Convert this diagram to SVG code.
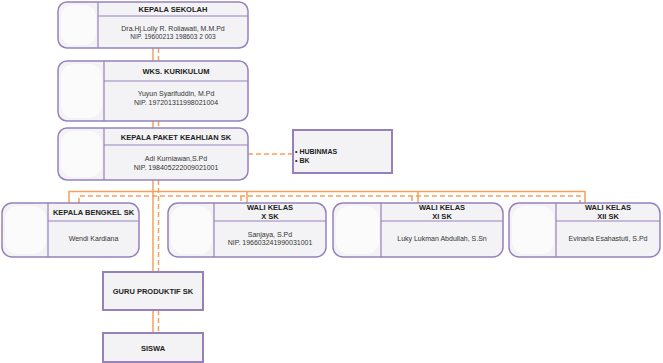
<svg xmlns="http://www.w3.org/2000/svg" width="663" height="363" viewBox="0 0 663 363">
<style>
.box{fill:#f3f3f5;stroke:#9781bd;stroke-width:1.5}
.sq{fill:#f3f3f5;stroke:#9781bd;stroke-width:2}
.blob{fill:#fbfbfc;stroke:none}
.div{stroke:#9781bd;stroke-width:1.2;fill:none}
.t{font-family:"Liberation Sans",Arial,sans-serif;font-weight:bold;font-size:7.5px;fill:#222;text-anchor:middle}
.n{font-family:"Liberation Sans",Arial,sans-serif;font-size:7px;fill:#333;text-anchor:middle}
.s{font-family:"Liberation Sans",Arial,sans-serif;font-size:6.6px;fill:#333;text-anchor:middle}
.b{font-family:"Liberation Sans",Arial,sans-serif;font-weight:bold;font-size:7px;fill:#222}
.sol{stroke:#f5a05a;stroke-width:1.5;fill:none}
.dash{stroke:#f5a05a;stroke-width:1.5;fill:none;stroke-dasharray:5,3}
</style>
<g id="connectors">
<line class="sol" x1="153" y1="48" x2="153" y2="61"/>
<line class="dash" x1="158.5" y1="48" x2="158.5" y2="61"/>
<line class="sol" x1="153" y1="121" x2="153" y2="128"/>
<line class="dash" x1="158.5" y1="121" x2="158.5" y2="128"/>
<line class="dash" x1="248" y1="154" x2="293" y2="154"/>
<line class="sol" x1="153" y1="180" x2="153" y2="272"/>
<line class="dash" x1="158.5" y1="180" x2="158.5" y2="272"/>
<line class="sol" x1="153" y1="310" x2="153" y2="333"/>
<line class="dash" x1="158.5" y1="310" x2="158.5" y2="333"/>
<polyline class="sol" points="69,203 69,191.5 585,191.5 585,203"/>
<line class="sol" x1="247" y1="191.5" x2="247" y2="203"/>
<line class="sol" x1="418" y1="191.5" x2="418" y2="203"/>
<polyline class="dash" points="79,203 79,196 580,196 580,203"/>
<line class="dash" x1="241" y1="196" x2="241" y2="203"/>
<line class="dash" x1="412" y1="196" x2="412" y2="203"/>
</g>
<g id="kepala-sekolah">
<rect class="box" x="58" y="2" width="190" height="46" rx="9"/>
<rect class="blob" x="61" y="5" width="35" height="40" rx="12"/>
<line class="div" x1="98" y1="2" x2="98" y2="48"/>
<line class="div" x1="98" y1="16" x2="248" y2="16"/>
<text class="t" x="173" y="12">KEPALA SEKOLAH</text>
<text class="n" x="173" y="31">Dra.Hj.Lolly R. Roliawati, M.M.Pd</text>
<text class="s" x="173" y="39">NIP. 19600213 198603 2 003</text>
</g>
<g id="wks-kurikulum">
<rect class="box" x="58" y="61" width="190" height="60" rx="9"/>
<rect class="blob" x="61" y="64" width="41" height="54" rx="13"/>
<line class="div" x1="104" y1="61" x2="104" y2="121"/>
<line class="div" x1="104" y1="81" x2="248" y2="81"/>
<text class="t" x="176" y="74">WKS. KURIKULUM</text>
<text class="n" x="176" y="96">Yuyun Syarifuddin, M.Pd</text>
<text class="n" x="176" y="104.5">NIP. 197201311998021004</text>
</g>
<g id="kepala-paket">
<rect class="box" x="58" y="128" width="190" height="52" rx="9"/>
<rect class="blob" x="61" y="131" width="41" height="46" rx="13"/>
<line class="div" x1="104" y1="128" x2="104" y2="180"/>
<line class="div" x1="104" y1="145" x2="248" y2="145"/>
<text class="t" x="176" y="140">KEPALA PAKET KEAHLIAN SK</text>
<text class="n" x="176" y="161">Adi Kurniawan,S.Pd</text>
<text class="n" x="176" y="170">NIP. 198405222009021001</text>
</g>
<g id="hubinmas">
<rect class="sq" x="293" y="130" width="99" height="43"/>
<text class="b" x="295" y="153.5">• HUBINMAS</text>
<text class="b" x="295" y="162.5">• BK</text>
</g>
<g id="kepala-bengkel">
<rect class="box" x="2" y="203" width="137" height="54" rx="10"/>
<rect class="blob" x="5" y="206" width="41" height="48" rx="13"/>
<line class="div" x1="48" y1="203" x2="48" y2="257"/>
<line class="div" x1="48" y1="221" x2="139" y2="221"/>
<text class="t" x="93.5" y="214.5">KEPALA BENGKEL SK</text>
<text class="n" x="93.5" y="241">Wendi Kardiana</text>
</g>
<g id="wali-x">
<rect class="box" x="168" y="203" width="158" height="54" rx="10"/>
<rect class="blob" x="171" y="206" width="41" height="48" rx="13"/>
<line class="div" x1="214" y1="203" x2="214" y2="257"/>
<line class="div" x1="214" y1="221" x2="326" y2="221"/>
<text class="t" x="270" y="210">WALI KELAS</text>
<text class="t" x="270" y="218.5">X SK</text>
<text class="n" x="270" y="236.5">Sanjaya, S.Pd</text>
<text class="n" x="270" y="245">NIP. 196603241990031001</text>
</g>
<g id="wali-xi">
<rect class="box" x="333" y="203" width="170" height="54" rx="10"/>
<rect class="blob" x="336" y="206" width="43" height="48" rx="13"/>
<line class="div" x1="381" y1="203" x2="381" y2="257"/>
<line class="div" x1="381" y1="221" x2="503" y2="221"/>
<text class="t" x="442" y="210">WALI KELAS</text>
<text class="t" x="442" y="218.5">XI SK</text>
<text class="n" x="442" y="241">Luky Lukman Abdullah, S.Sn</text>
</g>
<g id="wali-xii">
<rect class="box" x="509" y="203" width="151" height="54" rx="10"/>
<rect class="blob" x="512" y="206" width="42" height="48" rx="13"/>
<line class="div" x1="556" y1="203" x2="556" y2="257"/>
<line class="div" x1="556" y1="221" x2="660" y2="221"/>
<text class="t" x="608" y="210">WALI KELAS</text>
<text class="t" x="608" y="218.5">XII SK</text>
<text class="n" x="608" y="241">Evinaria Esahastuti, S.Pd</text>
</g>
<g id="guru-produktif">
<rect class="sq" x="103" y="272" width="100" height="38"/>
<text class="t" x="153" y="293.5">GURU PRODUKTIF SK</text>
</g>
<g id="siswa">
<rect class="sq" x="103" y="333" width="100" height="29"/>
<text class="t" x="153" y="351">SISWA</text>
</g>
</svg>
